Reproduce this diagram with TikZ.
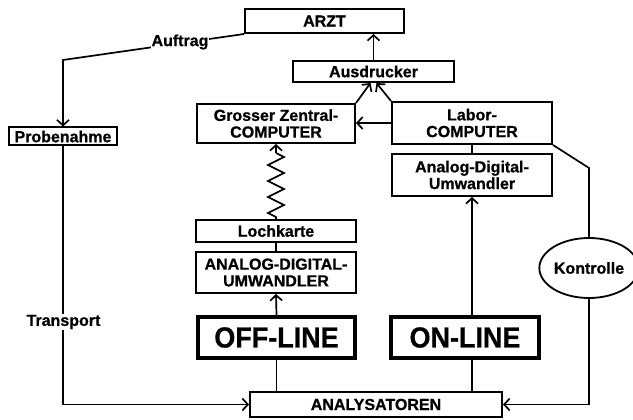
\documentclass[tikz,border=0pt]{standalone}
\usepackage{fontspec}
\setmainfont{Liberation Sans}[BoldFeatures={FakeBold=0.8}]
\usepackage{graphicx}
\usetikzlibrary{arrows.meta,decorations.pathmorphing,shapes.geometric}

\tikzset{
  lbl/.style={font=\fontsize{16}{16.7}\selectfont\bfseries},
  box/.style={lbl, draw, line width=2pt, inner sep=0pt, align=center},
  bigbox/.style={draw, line width=3.6pt, inner sep=0pt,
                 font=\fontsize{29}{30}\selectfont\bfseries},
  ovalbox/.style={lbl, draw, ellipse, line width=1.8pt, inner sep=0pt},
  wire/.style={line width=1.7pt},
  arr/.style={wire, -{Straight Barb[length=5.5pt,width=12pt]}},
  tag/.style={lbl, fill=white, inner sep=1pt},
}

\begin{document}
\begin{tikzpicture}[x=1pt,y=-1pt]
\useasboundingbox (0,0) rectangle (633,420);

% boxes
\node[box, minimum width=159pt, minimum height=24pt] (arzt) at (324.5,21) {ARZT};
\node[box, minimum width=161pt, minimum height=21pt] (ausd) at (373.5,71.5) {Ausdrucker};
\node[box, minimum width=158pt, minimum height=39pt] (gross) at (276,123.5) {Grosser Zentral-\\COMPUTER};
\node[box, minimum width=160pt, minimum height=42pt] (labor) at (472,123) {Labor-\\COMPUTER};
\node[box, minimum width=108pt, minimum height=18pt] (probe) at (63,136.5) {Probenahme};
\node[box, minimum width=160pt, minimum height=42pt] (adu) at (472,175) {Analog-Digital-\\Umwandler};
\node[box, minimum width=160pt, minimum height=22pt] (loch) at (276,231) {Lochkarte};
\node[box, minimum width=160pt, minimum height=41pt] (adub) at (276,272.5) {ANALOG-DIGITAL-\\UMWANDLER};
\node[bigbox, minimum width=157pt, minimum height=41pt] (off) at (276.5,337.5) {\scalebox{0.93}[1]{OFF-LINE}};
\node[bigbox, minimum width=148pt, minimum height=41pt] (on) at (465,337.5) {\scalebox{0.93}[1]{ON-LINE}};
\node[box, minimum width=252pt, minimum height=25pt] (ana) at (376,404.5) {ANALYSATOREN};
\node[ovalbox, minimum width=86pt, minimum height=60pt] (kontr) at (589,268) {Kontrolle};

% bend points
\coordinate (ak) at (63,60);
\coordinate (kk) at (589,168);
\coordinate (zz) at (276,153);

% connectors
\draw[arr] (ausd.north) -- (ausd.north |- arzt.south);
\draw[arr] (gross.north east) -- ([xshift=-3pt]ausd.south);
\draw[arr] (labor.north west) -- ([xshift=3pt]ausd.south);
\draw[arr] (labor.west) -- (labor.west -| gross.east);
\draw[wire] (labor.south) -- (adu.north);
\draw[arr] (adu.south |- on.north) -- (adu.south);
\draw[wire] (adu.south |- on.south) -- (adu.south |- ana.north);
\draw[arr] (off.north) -- (adub.south);
\draw[wire] (off.south) -- (off.south |- ana.north);
\draw[wire] (adub.north) -- (loch.south);
\draw[wire, decorate, decoration={zigzag, segment length=16pt, amplitude=8pt,
      pre length=2pt, post length=0pt}] (loch.north) -- (zz);
\draw[arr] (zz) -- (gross.south);
\draw[wire] (labor.south east) -- (kk) -- (kontr.north);
\draw[arr] (kontr.south) |- (ana.east);
\draw[arr] (probe.south) |- (ana.west);
\draw[arr] (arzt.south west) -- (ak) -- (probe.north);

% labels on the lines
\node[tag] (auftrag) at (180,42) {Auftrag};
\node[tag] (transport) at (63.5,322) {Transport};
\end{tikzpicture}
\end{document}
